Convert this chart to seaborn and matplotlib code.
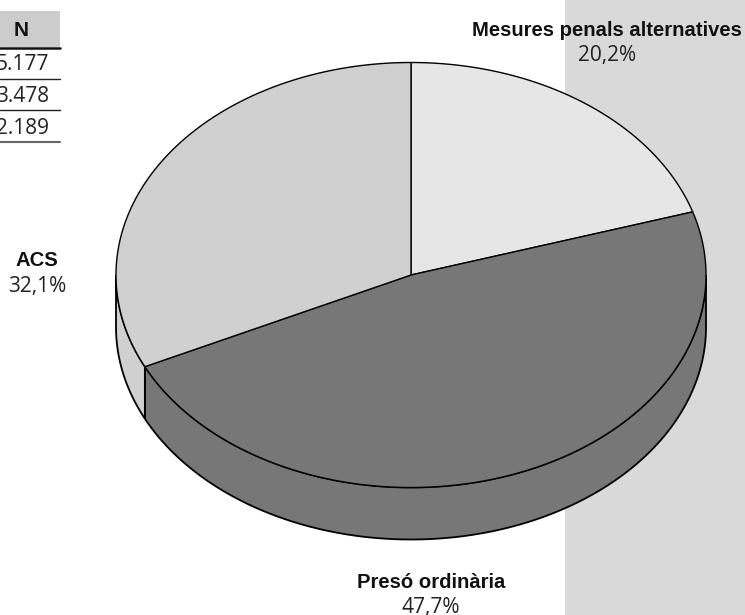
import numpy as np
import matplotlib
matplotlib.use("Agg")
import matplotlib.pyplot as plt
import seaborn as sns
from matplotlib.patches import Polygon, Rectangle

labels = ["Mesures penals alternatives", "Presó ordinària", "ACS"]
shares = [20.2, 47.7, 32.1]
share_labels = ["20,2%", "47,7%", "32,1%"]
top_colors = ["#e6e6e6", "#777777", "#d0d0d0"]
table_header = "N"
table_values = ["5.177", "3.478", "2.189"]

sns.set_theme(style="white")
plt.rcParams["font.family"] = ["Open Sans", "DejaVu Sans"]

fig = plt.figure(figsize=(7.45, 6.15), dpi=100)
ax = fig.add_axes([0, 0, 1, 1])
ax.set_xlim(0, 745)
ax.set_ylim(615, 0)
ax.axis("off")

ax.add_patch(Rectangle((565, 0), 180, 615, fc="#d9d9d9", ec="none", zorder=0))

CX, CY, RX, RY, DEPTH = 411, 275, 295, 212.5, 52

def top_x(t):
    return CX + RX * np.sin(t)

def top_y(t):
    return CY - RY * np.cos(t)

ends = np.cumsum(shares) / 100 * 2 * np.pi
starts = np.r_[0, ends[:-1]]

# side wall (visible front half only)
for s, e, col in zip(starts, ends, top_colors):
    lo, hi = max(s, np.pi / 2), min(e, 1.5 * np.pi)
    if hi <= lo:
        continue
    t = np.linspace(lo, hi, 300)
    xs = np.r_[top_x(t), top_x(t[::-1])]
    ys = np.r_[top_y(t), top_y(t[::-1]) + DEPTH]
    ax.add_patch(Polygon(np.c_[xs, ys], closed=True, fc=col, ec="black", lw=1.3, zorder=2))

# top face
for s, e, col in zip(starts, ends, top_colors):
    t = np.linspace(s, e, 300)
    xs = np.r_[CX, top_x(t)]
    ys = np.r_[CY, top_y(t)]
    ax.add_patch(Polygon(np.c_[xs, ys], closed=True, fc=col, ec="black", lw=1.0, zorder=3))

# labels
name_pos = [(607, 30), (431, 583), (37, 260)]
pct_pos = [(607, 55), (431, 608), (37, 286.5)]
for (x, y), (px, py), n, p in zip(name_pos, pct_pos, labels, share_labels):
    ax.text(x, y, n, ha="center", va="center", fontsize=14.6, fontweight="bold", color="#111111", zorder=5, family=["Liberation Sans"])
    ax.text(px, py, p, ha="center", va="center", fontsize=15, color="#222222", zorder=5, family=["Open Sans"])

# table fragment
ax.add_patch(Rectangle((0, 11), 60, 36, fc="#cccccc", ec="none", zorder=1))
ax.plot([0, 60], [47.5, 47.5], color="#111111", lw=1.8, zorder=2)
ax.text(21.5, 31, table_header, ha="center", va="center", fontsize=15, fontweight="bold", color="#111111", family=["Liberation Sans"])
for y, v in zip([65, 96.5, 128], table_values):
    ax.text(49, y, v, ha="right", va="center", fontsize=15, color="#222222")
for y, c, w in zip([78.5, 110, 141.5], ["#222222", "#222222", "#666666"], [1, 1, 1.5]):
    ax.plot([0, 60], [y, y], color=c, lw=w, zorder=2)

fig.savefig("out.png", dpi=100)
